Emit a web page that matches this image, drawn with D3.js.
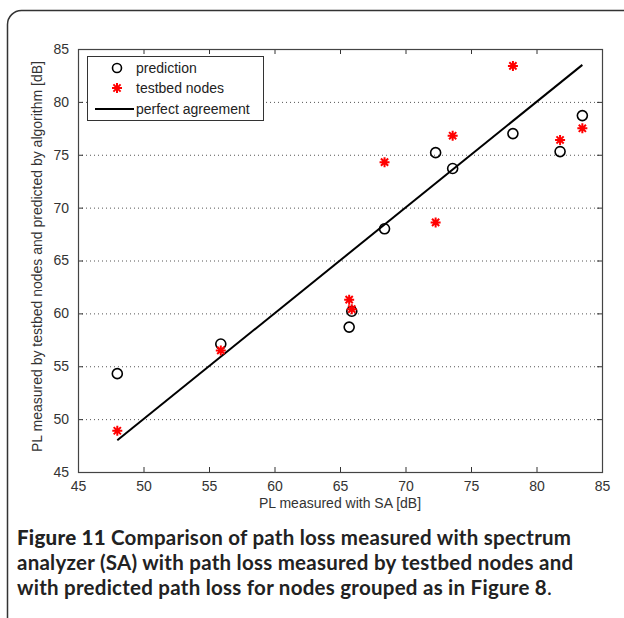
<!DOCTYPE html>
<html>
<head>
<meta charset="utf-8">
<script src="https://cdn.jsdelivr.net/npm/d3@7"></script>
<style>
  body { margin: 0; background: #fff; }
  svg { display: block; }
</style>
</head>
<body>
<div id="chart"></div>
<script>
// measured with SA [dB]
const xValues = [48.0, 55.9, 65.7, 65.9, 68.4, 72.3, 73.6, 78.2, 81.8, 83.5];
// predicted by algorithm [dB]
const predValues = [54.3, 57.1, 58.7, 60.2, 68.0, 75.2, 73.7, 77.0, 75.3, 78.7];
// measured by testbed nodes [dB]
const testbedValues = [48.9, 56.5, 61.3, 60.4, 74.3, 68.6, 76.8, 83.4, 76.4, 77.5];
const agreement = [48, 83.5];
const xTicks = [45, 50, 55, 60, 65, 70, 75, 80, 85];
const yTicks = [45, 50, 55, 60, 65, 70, 75, 80, 85];
const legendLabels = ["prediction", "testbed nodes", "perfect agreement"];

const width = 624, height = 618;
const margin = { top: 49, right: 22, bottom: 146, left: 78 };
const w = width - margin.left - margin.right;
const h = height - margin.top - margin.bottom;

const svg = d3.select("#chart").append("svg")
    .attr("width", width)
    .attr("height", height);

// outer frame
svg.append("rect")
    .attr("x", 7.5).attr("y", 10.5)
    .attr("width", 640).attr("height", 640)
    .attr("rx", 14)
    .attr("fill", "none")
    .attr("stroke", "#333")
    .attr("stroke-width", 1.5);

const x = d3.scaleLinear().domain([45, 85]).range([0, w]);
const y = d3.scaleLinear().domain([45, 85]).range([h, 0]);

const g = svg.append("g")
    .attr("transform", "translate(" + margin.left + "," + margin.top + ")");

// horizontal dotted grid
g.selectAll(".grid")
    .data(yTicks.slice(1))
    .enter().append("line")
    .attr("x1", 0).attr("x2", w)
    .attr("y1", d => y(d) + 0.5).attr("y2", d => y(d) + 0.5)
    .attr("stroke", "#555")
    .attr("stroke-width", 1)
    .attr("stroke-dasharray", "1,3");

// axes with inward ticks
const tickFont = "'Liberation Sans', Arial, sans-serif";
const axB = g.append("g").attr("transform", "translate(0," + h + ")")
    .call(d3.axisBottom(x).tickValues(xTicks).tickSizeInner(-5).tickSizeOuter(0).tickPadding(9));
const axT = g.append("g")
    .call(d3.axisTop(x).tickValues(xTicks).tickSizeInner(-5).tickSizeOuter(0).tickFormat(""));
const axL = g.append("g")
    .call(d3.axisLeft(y).tickValues(yTicks).tickSizeInner(-5).tickSizeOuter(0).tickPadding(9));
const axR = g.append("g").attr("transform", "translate(" + w + ",0)")
    .call(d3.axisRight(y).tickValues(yTicks).tickSizeInner(-5).tickSizeOuter(0).tickFormat(""));

[axB, axT, axL, axR].forEach(a => {
    a.select(".domain").remove();
    a.selectAll("line").attr("stroke", "#333");
    a.selectAll("text")
        .attr("font-family", tickFont)
        .attr("font-size", 14)
        .attr("fill", "#333");
});

g.append("rect")
    .attr("x", 0.5).attr("y", 0.5)
    .attr("width", w).attr("height", h)
    .attr("fill", "none")
    .attr("stroke", "#444")
    .attr("stroke-width", 1.2);

// perfect agreement line
g.append("line")
    .attr("x1", x(agreement[0])).attr("y1", y(agreement[0]))
    .attr("x2", x(agreement[1])).attr("y2", y(agreement[1]))
    .attr("stroke", "#000")
    .attr("stroke-width", 2);

const star = "M-5,0H5M0,-5V5M-3.6,-3.6L3.6,3.6M-3.6,3.6L3.6,-3.6";

// prediction circles
g.selectAll(".pred")
    .data(xValues)
    .enter().append("circle")
    .attr("cx", d => x(d))
    .attr("cy", (d, i) => y(predValues[i]))
    .attr("r", 5)
    .attr("fill", "none")
    .attr("stroke", "#000")
    .attr("stroke-width", 1.6);

// testbed stars
g.selectAll(".tb")
    .data(xValues)
    .enter().append("path")
    .attr("transform", (d, i) => "translate(" + x(d) + "," + y(testbedValues[i]) + ")")
    .attr("d", star)
    .attr("stroke", "#ff0000")
    .attr("stroke-width", 2)
    .attr("fill", "none");

// legend
const lg = g.append("g").attr("transform", "translate(9,7)");
lg.append("rect")
    .attr("x", 0.5).attr("y", 0.5)
    .attr("width", 176).attr("height", 64)
    .attr("fill", "#fff")
    .attr("stroke", "#333")
    .attr("stroke-width", 1);
const rowY = [12, 32, 53];
lg.append("circle").attr("cx", 30).attr("cy", rowY[0]).attr("r", 4.5)
    .attr("fill", "none").attr("stroke", "#000").attr("stroke-width", 1.6);
lg.append("path").attr("transform", "translate(30," + rowY[1] + ")").attr("d", star)
    .attr("stroke", "#ff0000").attr("stroke-width", 2).attr("fill", "none");
lg.append("line").attr("x1", 8).attr("x2", 47).attr("y1", rowY[2]).attr("y2", rowY[2])
    .attr("stroke", "#000").attr("stroke-width", 2);
lg.selectAll(".lt")
    .data(legendLabels)
    .enter().append("text")
    .attr("x", 49)
    .attr("y", (d, i) => rowY[i])
    .attr("dy", "0.35em")
    .attr("font-family", tickFont)
    .attr("font-size", 14)
    .attr("fill", "#222")
    .text(d => d);

// axis labels
svg.append("text")
    .attr("x", margin.left + w / 2)
    .attr("y", 508)
    .attr("text-anchor", "middle")
    .attr("font-family", tickFont)
    .attr("font-size", 14)
    .attr("fill", "#333")
    .text("PL measured with SA [dB]");

svg.append("text")
    .attr("transform", "translate(42," + (margin.top + h / 2 - 4) + ") rotate(-90)")
    .attr("text-anchor", "middle")
    .attr("font-family", tickFont)
    .attr("font-size", 14)
    .attr("fill", "#333")
    .text("PL measured by testbed nodes and predicted by algorithm [dB]");

// caption
const captionLines = [
    [["Figure 11 ", 900], ["Comparison of path loss measured with spectrum", 700]],
    [["analyzer (SA) with path loss measured by testbed nodes and", 700]],
    [["with predicted path loss for nodes grouped as in Figure 8", 700], [".", 400]]
];
const cap = svg.append("text")
    .attr("font-family", "Lato, sans-serif")
    .attr("font-size", 20.5)
    .attr("letter-spacing", 0.25)
    .attr("fill", "#222");
captionLines.forEach((line, i) => {
    line.forEach((part, j) => {
        const t = cap.append("tspan").attr("font-weight", part[1]).text(part[0]);
        if (j === 0) t.attr("x", 17).attr("y", 545 + i * 25);
    });
});
</script>
</body>
</html>
